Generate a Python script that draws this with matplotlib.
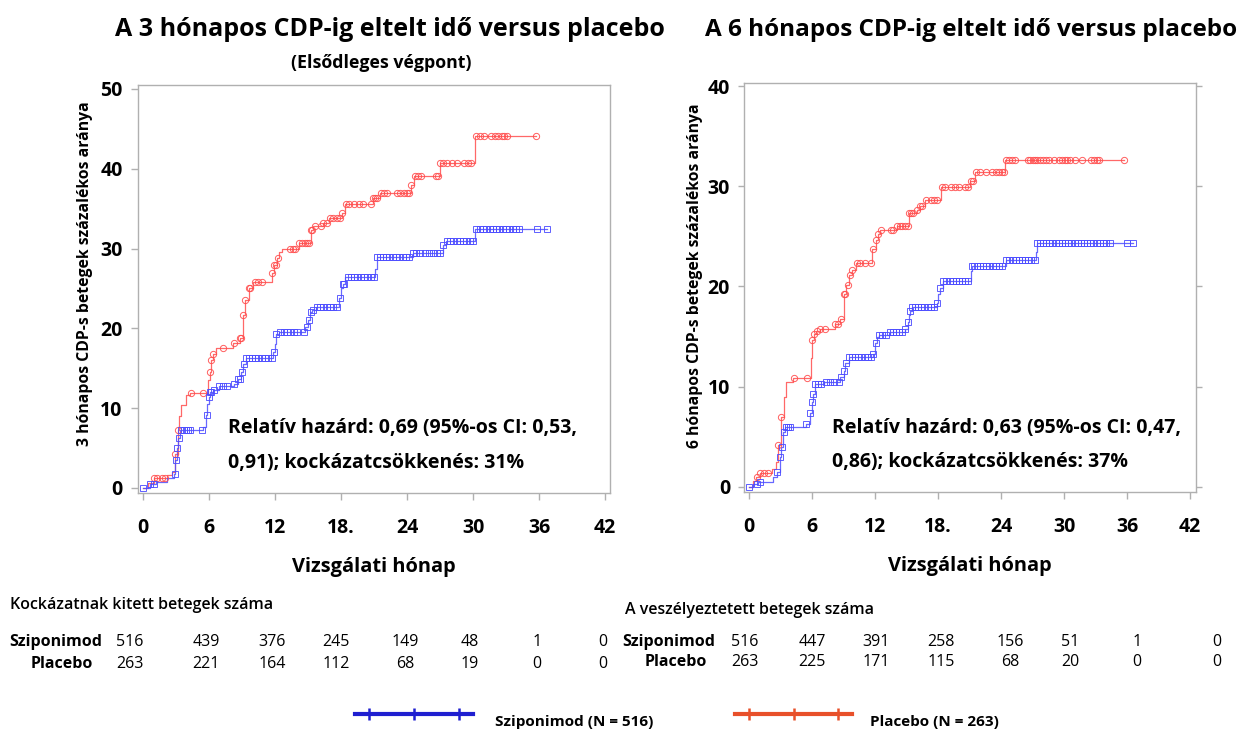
import numpy as np
import matplotlib.pyplot as plt
from matplotlib.lines import Line2D

plt.rcParams['font.family'] = ['Open Sans', 'DejaVu Sans']

# ---- 3 hónapos CDP (bal oldali panel) ----
t3_plac = [0, 0.5, 1.0, 2.2, 2.6, 2.9, 3.15, 3.3, 3.5, 3.9, 4.3, 5.9, 6.05, 6.2, 6.4, 6.6, 8.2, 8.8,
           9.1, 9.3, 9.6, 10.0, 11.7, 11.9, 12.2, 12.4, 12.6, 14.2, 15.3, 15.5, 16.4, 16.9, 18.1,
           18.4, 20.9, 21.5, 24.4, 24.6, 27.0, 30.2]
y3_plac = [0, 0.6, 1.2, 1.6, 2.0, 4.3, 7.3, 9.0, 10.4, 11.6, 11.9, 13.5, 14.5, 16.0, 16.8, 17.5, 18.2,
           18.8, 21.7, 23.5, 25.0, 25.8, 27.0, 28.0, 28.8, 29.6, 29.9, 30.7, 32.3, 32.8, 33.2, 33.8,
           34.5, 35.6, 36.3, 37.0, 38.0, 39.1, 40.7, 44.1]
c3_plac = [1.0, 1.3, 1.7, 2.0, 2.9, 3.15, 4.4, 5.5, 6.05, 6.2, 6.4, 7.3, 8.3, 8.8, 8.9, 9.1, 9.3, 9.6,
           9.7, 10.2, 10.5, 10.8, 11.7, 11.9, 12.1, 12.3, 13.4, 13.6, 13.8, 14.2, 14.5, 14.7, 14.9,
           15.1, 15.3, 15.4, 15.6, 16.2, 16.4, 16.7, 17.0, 17.3, 17.6, 17.9, 18.1, 18.5, 18.7, 19.2,
           19.6, 20.0, 20.7, 20.9, 21.1, 21.3, 21.6, 21.9, 22.2, 23.1, 23.4, 23.7, 24.0, 24.2, 24.4,
           24.7, 25.0, 25.3, 26.6, 26.8, 27.0, 27.3, 27.6, 28.1, 28.5, 29.2, 29.5, 29.8, 30.3, 30.6,
           31.0, 31.6, 32.0, 32.3, 32.6, 32.8, 33.1, 35.7]

t3_sipo = [0, 0.6, 1.2, 2.2, 2.8, 2.95, 3.05, 3.2, 3.4, 5.5, 5.7, 5.85, 6.0, 6.1, 6.4, 6.9, 8.3, 8.6,
           8.9, 9.1, 9.4, 11.8, 12.0, 12.1, 12.4, 14.7, 15.0, 15.2, 15.4, 15.7, 17.8, 18.0, 18.2,
           18.4, 21.1, 21.3, 24.5, 27.3, 27.5, 30.2]
y3_sipo = [0, 0.5, 0.8, 1.2, 1.8, 3.5, 5.0, 6.2, 7.3, 7.6, 9.2, 10.5, 11.4, 12.0, 12.3, 12.8, 13.0,
           13.7, 14.5, 15.5, 16.3, 17.0, 18.1, 19.3, 19.6, 20.2, 21.0, 22.0, 22.3, 22.7, 23.8, 25.0,
           25.6, 26.5, 27.5, 28.9, 29.4, 30.4, 30.9, 32.4]
c3_sipo = [0, 0.6, 1.0, 2.9, 3.0, 3.1, 3.3, 3.5, 3.7, 3.9, 4.1, 4.3, 5.4, 5.8, 6.0, 6.1, 6.2, 6.5,
           6.9, 7.3, 7.6, 8.3, 8.6, 8.8, 9.0, 9.2, 9.4, 9.6, 9.9, 10.2, 10.5, 10.8, 11.1, 11.4, 11.7,
           11.9, 12.1, 12.5, 12.8, 13.1, 13.4, 13.7, 14.0, 14.6, 14.9, 15.1, 15.3, 15.5, 15.8, 16.1,
           16.4, 16.7, 17.0, 17.3, 17.6, 17.9, 18.2, 18.3, 18.6, 18.9, 19.2, 19.5, 19.8, 20.1, 20.4,
           20.7, 21.0, 21.3, 21.5, 21.8, 22.1, 22.4, 22.7, 23.0, 23.3, 23.6, 23.9, 24.2, 24.5, 24.8,
           25.2, 25.6, 26.0, 26.4, 26.7, 27.0, 27.3, 27.6, 27.9, 28.2, 28.5, 28.8, 29.1, 29.4, 29.7,
           30.0, 30.3, 30.6, 30.9, 31.2, 31.5, 31.8, 32.1, 32.4, 32.7, 33.0, 33.3, 33.6, 33.9, 34.2,
           35.8, 36.7]

# ---- 6 hónapos CDP (jobb oldali panel) ----
t6_plac = [0, 0.4, 0.7, 1.0, 2.2, 2.6, 2.8, 3.05, 3.3, 3.5, 4.2, 5.9, 6.0, 6.2, 6.4, 6.8, 8.2, 8.7,
           9.0, 9.2, 9.5, 9.8, 10.2, 11.7, 12.1, 12.3, 12.5, 14.1, 15.2, 16.0, 16.3, 16.8, 18.3,
           21.0, 21.5, 24.4]
y6_plac = [0, 0.6, 1.0, 1.4, 1.8, 2.5, 4.2, 7.0, 9.0, 10.5, 10.9, 12.9, 14.7, 15.3, 15.6, 15.8,
           16.3, 16.8, 19.3, 20.1, 21.1, 21.6, 22.3, 23.7, 24.6, 25.2, 25.6, 26.0, 27.3, 27.6, 28.0,
           28.6, 29.9, 30.5, 31.4, 32.6]
c6_plac = [0.8, 1.0, 1.4, 1.8, 2.8, 3.05, 4.3, 5.5, 6.0, 6.2, 6.5, 6.8, 7.2, 8.2, 8.5, 8.8, 9.0,
           9.1, 9.4, 9.6, 9.8, 10.3, 10.6, 11.0, 11.6, 11.8, 12.1, 12.3, 12.6, 13.5, 13.7, 14.1,
           14.4, 14.6, 14.9, 15.1, 15.2, 15.4, 15.6, 16.0, 16.3, 16.5, 16.9, 17.3, 17.6, 17.9, 18.4,
           18.7, 19.2, 19.6, 20.0, 20.6, 20.9, 21.1, 21.3, 21.6, 22.0, 22.6, 23.1, 23.5, 23.8, 24.1,
           24.3, 24.5, 24.8, 25.0, 25.3, 26.6, 26.8, 27.0, 27.2, 27.4, 27.7, 28.0, 28.3, 28.6, 29.0,
           29.5, 29.8, 30.1, 30.3, 30.6, 31.0, 31.7, 32.6, 32.9, 33.1, 33.3, 35.7]

t6_sipo = [0, 0.4, 0.9, 2.3, 2.7, 2.95, 3.05, 3.2, 3.4, 5.4, 5.8, 5.95, 6.1, 6.3, 7.1, 8.7, 9.0,
           9.1, 9.5, 11.8, 12.0, 12.2, 12.4, 13.4, 14.9, 15.1, 15.2, 15.3, 15.5, 17.9, 18.0, 18.2,
           18.5, 21.1, 21.2, 24.5, 27.3, 27.4]
y6_sipo = [0, 0.3, 0.5, 1.0, 1.5, 3.0, 4.0, 5.5, 6.0, 6.3, 7.4, 8.5, 9.3, 10.3, 10.5, 11.0, 11.6,
           12.4, 13.0, 13.3, 14.4, 15.0, 15.2, 15.5, 15.8, 16.5, 17.2, 17.6, 18.0, 18.4, 19.3, 19.9,
           20.5, 21.5, 22.0, 22.6, 23.4, 24.3]
c6_sipo = [0, 0.8, 1.0, 2.7, 2.95, 3.1, 3.3, 3.5, 3.7, 3.9, 5.4, 5.8, 5.95, 6.1, 6.3, 6.6, 6.9,
           7.3, 7.7, 8.1, 8.6, 8.8, 9.0, 9.2, 9.5, 9.8, 10.1, 10.4, 10.7, 11.0, 11.3, 11.6, 11.8,
           12.1, 12.4, 12.7, 13.0, 13.4, 13.7, 14.0, 14.3, 14.6, 14.9, 15.1, 15.3, 15.5, 15.8, 16.1,
           16.4, 16.7, 17.0, 17.3, 17.6, 17.9, 18.2, 18.5, 18.8, 19.1, 19.4, 19.7, 20.0, 20.3, 20.6,
           20.9, 21.2, 21.4, 21.7, 22.0, 22.3, 22.6, 22.9, 23.2, 23.5, 23.8, 24.1, 24.5, 24.8, 25.1,
           25.4, 25.7, 26.0, 26.3, 26.6, 26.9, 27.2, 27.4, 27.7, 28.0, 28.3, 28.6, 28.9, 29.2, 29.5,
           29.8, 30.1, 30.4, 30.7, 31.0, 31.3, 31.6, 31.9, 32.2, 32.5, 32.8, 33.1, 33.4, 33.7, 34.0,
           34.4, 36.0, 36.6]

xticks = [0, 6, 12, 18, 24, 30, 36, 42]
xtick_labels = ['0', '6', '12', '18.', '24', '30', '36', '42']

risk3_sipo = [516, 439, 376, 245, 149, 48, 1, 0]
risk3_plac = [263, 221, 164, 112, 68, 19, 0, 0]
risk6_sipo = [516, 447, 391, 258, 156, 51, 1, 0]
risk6_plac = [263, 225, 171, 115, 68, 20, 0, 0]
risk3_x = [130, 206, 272, 336, 405, 470, 537, 603]
risk6_x = [745, 812, 876, 941, 1010, 1070, 1137, 1217]

RED = '#ff4d4d'
BLUE = '#4d4dff'

W, H = 1247, 734
fig = plt.figure(figsize=(W / 100, H / 100), dpi=100)


def fx(px):
    return px / W


def fy(py):
    return 1 - py / H


def draw_curve(ax, t, y, cens, color, marker):
    t = np.array(t)
    y = np.array(y)
    cens = np.array(cens)
    tt = np.append(t, cens.max())
    yy = np.append(y, y[-1])
    ax.step(tt, yy, where='post', color=color, lw=0.9, alpha=0.85, zorder=2)
    idx = np.searchsorted(t, cens, side='right') - 1
    ax.plot(cens, y[idx], ls='none', marker=marker, ms=4.5, mfc='none', mec=color, mew=0.7,
            alpha=0.9, zorder=3)


def setup(ax, ylim, xlim, yticks, ylabel, right_ticks, label_xy):
    ax.set_xlim(*xlim)
    ax.set_ylim(*ylim)
    for s in ax.spines.values():
        s.set_color('#b0b0b0')
        s.set_linewidth(1.0)
    ax.set_xticks(xticks)
    ax.set_xticklabels(xtick_labels)
    ax.set_yticks(yticks)
    ax.tick_params(axis='both', colors='#b0b0b0', labelcolor='black', length=5, width=1,
                   labelsize=14)
    ax.tick_params(axis='x', pad=13)
    ax.tick_params(axis='y', pad=6)
    if right_ticks:
        ax.tick_params(axis='y', right=True, length=4)
    for lab in ax.get_xticklabels() + ax.get_yticklabels():
        lab.set_fontweight('bold')
    ax.set_xlabel('Vizsgálati hónap', fontsize=14.4, fontweight='bold', labelpad=14)
    ax.set_ylabel(ylabel, fontsize=11.3, fontweight='bold')
    ax.yaxis.set_label_coords(*label_xy)


# bal panel
ax1 = fig.add_axes([fx(138), fy(493), fx(610 - 138), (493 - 85) / H])
draw_curve(ax1, t3_plac, y3_plac, c3_plac, RED, 'o')
draw_curve(ax1, t3_sipo, y3_sipo, c3_sipo, BLUE, 's')
setup(ax1, (-0.63, 50.5), (-0.45, 42.45), [0, 10, 20, 30, 40, 50],
      '3 hónapos CDP-s betegek százalékos aránya', False, (-0.095, 0.537))
ax1.text(7.7, 7.5, 'Relatív hazárd: 0,69 (95%-os CI: 0,53,', fontsize=14, fontweight='bold',
         va='center')
ax1.text(7.7, 3.1, '0,91); kockázatcsökkenés: 31%', fontsize=14, fontweight='bold', va='center')

# jobb panel
ax2 = fig.add_axes([fx(744), fy(492), fx(1196 - 744), (492 - 83) / H])
draw_curve(ax2, t6_plac, y6_plac, c6_plac, RED, 'o')
draw_curve(ax2, t6_sipo, y6_sipo, c6_sipo, BLUE, 's')
setup(ax2, (-0.5, 40.3), (-0.48, 42.57), [0, 10, 20, 30, 40],
      '6 hónapos CDP-s betegek százalékos aránya', True, (-0.091, 0.528))
ax2.text(7.9, 5.9, 'Relatív hazárd: 0,63 (95%-os CI: 0,47,', fontsize=14, fontweight='bold',
         va='center')
ax2.text(7.9, 2.5, '0,86); kockázatcsökkenés: 37%', fontsize=14, fontweight='bold', va='center')

# címek
fig.text(fx(390), fy(30), 'A 3 hónapos CDP-ig eltelt idő versus placebo', fontsize=18,
         fontweight='bold', ha='center', va='center')
fig.text(fx(381), fy(63), '(Elsődleges végpont)', fontsize=12.8, fontweight='bold', ha='center',
         va='center')
fig.text(fx(705), fy(30), 'A 6 hónapos CDP-ig eltelt idő versus placebo', fontsize=17.5,
         fontweight='bold', ha='left', va='center')

# kockázati táblák
TS = 11.5
fig.text(fx(10), fy(605), 'Kockázatnak kitett betegek száma', fontsize=TS,
         fontweight='semibold', va='center')
fig.text(fx(625), fy(610), 'A veszélyeztetett betegek száma', fontsize=TS,
         fontweight='semibold', va='center')
fig.text(fx(56), fy(642), 'Sziponimod', fontsize=TS, fontweight='bold',
         ha='center', va='center')
fig.text(fx(62), fy(664), 'Placebo', fontsize=TS, fontweight='bold',
         ha='center', va='center')
fig.text(fx(669), fy(642), 'Sziponimod', fontsize=TS, fontweight='bold',
         ha='center', va='center')
fig.text(fx(676), fy(662), 'Placebo', fontsize=TS, fontweight='bold',
         ha='center', va='center')
for x, a, b in zip(risk3_x, risk3_sipo, risk3_plac):
    fig.text(fx(x), fy(642), str(a), fontsize=TS, ha='center', va='center')
    fig.text(fx(x), fy(664), str(b), fontsize=TS, ha='center', va='center')
for x, a, b in zip(risk6_x, risk6_sipo, risk6_plac):
    fig.text(fx(x), fy(642), str(a), fontsize=TS, ha='center', va='center')
    fig.text(fx(x), fy(662), str(b), fontsize=TS, ha='center', va='center')

# jelmagyarázat
for x0, x1, col, label, tx in [(355, 473, '#1f1fd0', 'Sziponimod (N = 516)', 495),
                               (735, 852, '#e8502a', 'Placebo (N = 263)', 870)]:
    xs = [fx(x0 + f * (x1 - x0)) for f in (0.12, 0.5, 0.88)]
    fig.add_artist(Line2D([fx(x0), fx(x1)], [fy(714), fy(714)], color=col, lw=3))
    fig.add_artist(Line2D(xs, [fy(714)] * 3, ls='none', marker='|', ms=9, mew=1.8,
                          color=col))
    fig.text(fx(tx), fy(722), label, fontsize=11, fontweight='bold', va='center')

fig.savefig('out.png', dpi=100)
